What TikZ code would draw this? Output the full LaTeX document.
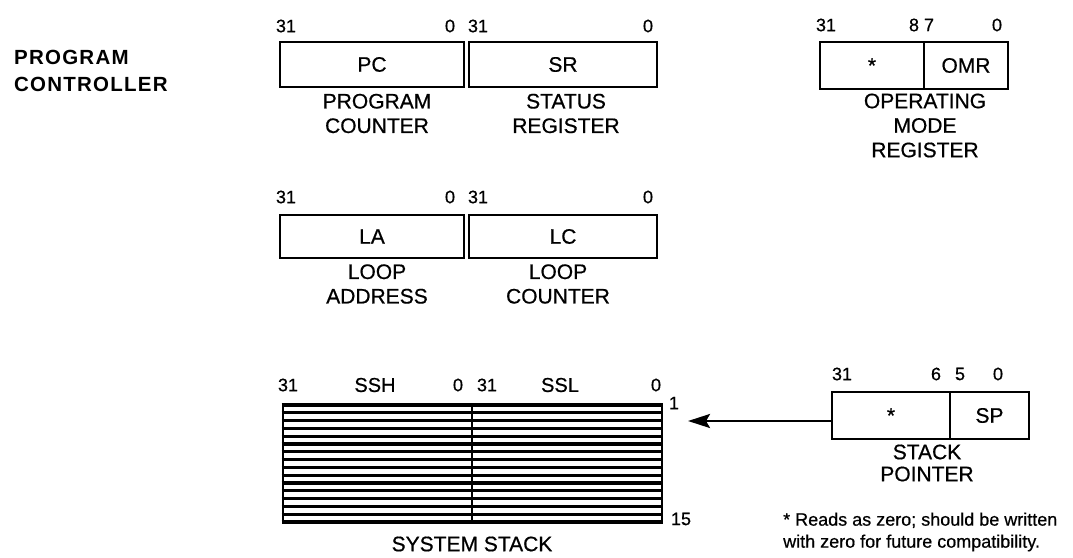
\documentclass[tikz,border=0pt]{standalone}
\usepackage{fontspec}
\setmainfont{Liberation Sans}
\newfontfamily\medfam[FakeBold=0.6]{Liberation Sans}
\newfontfamily\headfam[LetterSpace=6]{Liberation Sans}
\usetikzlibrary{arrows.meta}
\newcommand\lblfont{\medfam\fontsize{21}{24.5}\selectfont}
\newcommand\numfont{\medfam\fontsize{18}{19}\selectfont}
\newcommand\notefont{\medfam\fontsize{18}{22}\selectfont}
\newcommand\headfont{\headfam\bfseries\fontsize{20.5}{27}\selectfont}
\begin{document}
\begin{tikzpicture}[x=1pt,y=-1pt,
  reg/.style={draw, line width=2.8pt, inner sep=0, font=\lblfont},
  num/.style={font=\numfont, inner sep=0},
  lbl/.style={font=\lblfont, align=center, inner sep=0},
  note/.style={font=\notefont, align=left, inner sep=0, anchor=west},
  head/.style={font=\headfont, align=left, inner sep=0, anchor=west}]
\useasboundingbox (0,0) rectangle (1073,557);

% heading
\node[head] (head) at (14,70.5) {PROGRAM\\CONTROLLER};

% PC and SR
\node[reg, minimum width=184pt, minimum height=45pt] (pc) at (372,64.5) {PC};
\node[reg, minimum width=188pt, minimum height=45pt] (sr) at (563,64.5) {SR};
\node[num] (pc31) at (286,26) {31};
\node[num] (pc0) at (450,26) {0};
\node[num] (sr31) at (478,26) {31};
\node[num] (sr0) at (648,26) {0};
\node[lbl] (pclbl) at (377,113.5) {PROGRAM\\COUNTER};
\node[lbl] (srlbl) at (566,113.5) {STATUS\\REGISTER};

% OMR
\node[reg, minimum width=104pt, minimum height=47pt] (omrstar) at (872,65.5) {*};
\node[reg, minimum width=84pt, minimum height=47pt] (omr) at (966,65.5) {OMR};
\node[num] (omr31) at (826,25) {31};
\node[num] (omr8) at (914,25) {8};
\node[num] (omr7) at (929,25) {7};
\node[num] (omr0) at (997,25) {0};
\node[lbl] (omrlbl) at (925,125.5) {OPERATING\\MODE\\REGISTER};

% LA and LC
\node[reg, minimum width=184pt, minimum height=43pt] (la) at (372,236.5) {LA};
\node[reg, minimum width=188pt, minimum height=43pt] (lc) at (563,236.5) {LC};
\node[num] (la31) at (286,197) {31};
\node[num] (la0) at (450,197) {0};
\node[num] (lc31) at (478,197) {31};
\node[num] (lc0) at (648,197) {0};
\node[lbl] (lalbl) at (377,284) {LOOP\\ADDRESS};
\node[lbl] (lclbl) at (558,284) {LOOP\\COUNTER};

% System stack
\node[draw, line width=2.8pt, inner sep=0, minimum width=189pt, minimum height=117pt] (ssh) at (377.5,463.5) {};
\node[draw, line width=2.8pt, inner sep=0, minimum width=190pt, minimum height=117pt] (ssl) at (567,463.5) {};
\foreach \k in {0,...,15} {
  \draw[line width=3.3pt] (ssh.west |- 0,{405+7.8*\k}) -- (ssl.east |- 0,{405+7.8*\k});
}
\node[num] (ssh31) at (288,385) {31};
\node[lbl, font=\medfam\fontsize{20}{22}\selectfont] (sshlbl) at (375,385) {SSH};
\node[num] (ssh0) at (458,385) {0};
\node[num] (ssl31) at (487,385) {31};
\node[lbl, font=\medfam\fontsize{20}{22}\selectfont] (ssllbl) at (560,385) {SSL};
\node[num] (ssl0) at (656,385) {0};
\node[num] (row1) at (674,403) {1};
\node[num] (row15) at (681,519) {15};
\node[lbl] (sslbl) at (472,544) {SYSTEM STACK};

% Stack pointer
\node[reg, minimum width=118pt, minimum height=47pt] (spstar) at (891,415.5) {*};
\node[reg, minimum width=79pt, minimum height=47pt] (sp) at (989.5,415.5) {SP};
\node[num] (sp31) at (842,374) {31};
\node[num] (sp6) at (936,374) {6};
\node[num] (sp5) at (960,374) {5};
\node[num] (sp0) at (998,374) {0};
\node[lbl, font=\medfam\fontsize{21}{22}\selectfont] (splbl) at (927,463) {STACK\\POINTER};
\coordinate (tip) at (688,421);
\draw[line width=2.4pt, -{Stealth[length=22pt,width=14pt,inset=4pt]}] ([yshift=-5.5pt]spstar.west) -- (tip);

% footnote
\node[note] (fn) at (783,532) {* Reads as zero; should be written\\with zero for future compatibility.};
\end{tikzpicture}
\end{document}
